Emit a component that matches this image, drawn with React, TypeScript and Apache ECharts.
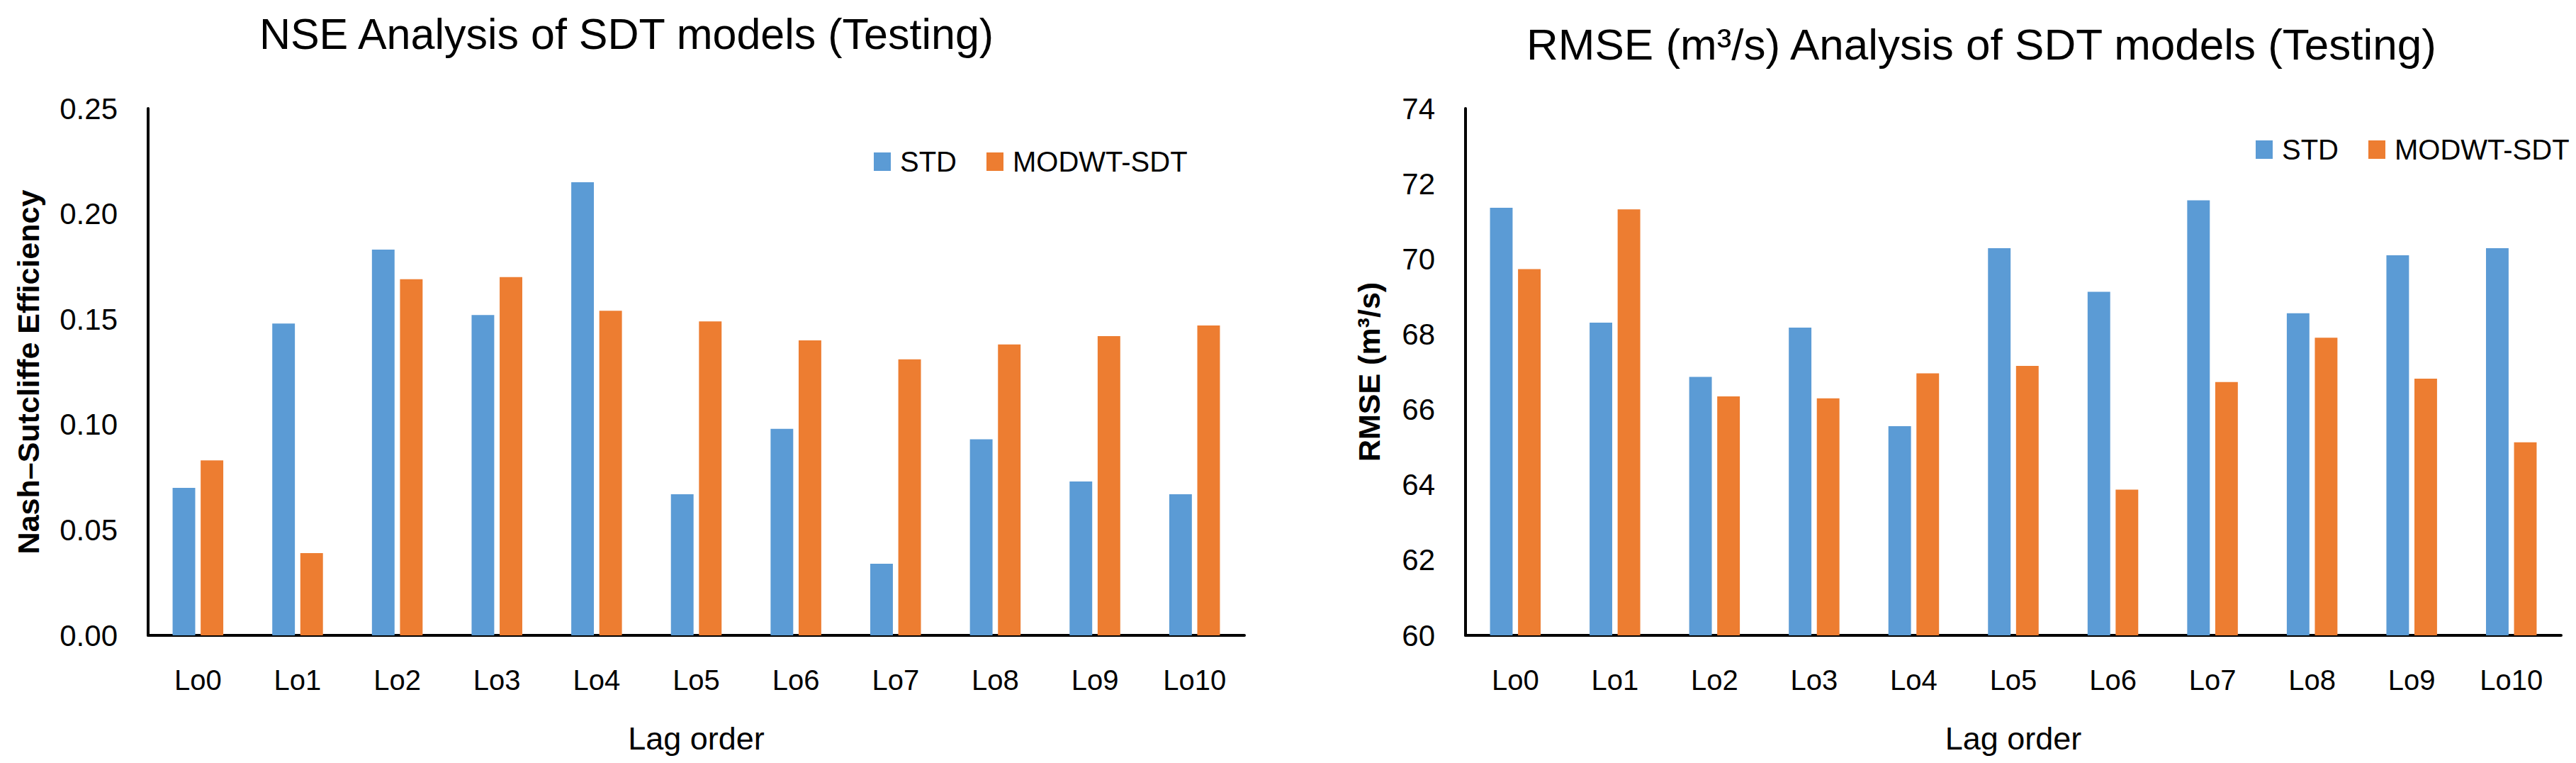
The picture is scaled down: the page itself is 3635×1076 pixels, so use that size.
import React, { useEffect, useRef } from "react";
import * as echarts from "echarts";

const categories = ["Lo0", "Lo1", "Lo2", "Lo3", "Lo4", "Lo5", "Lo6", "Lo7", "Lo8", "Lo9", "Lo10"];
const seriesNames = ["STD", "MODWT-SDT"];
const nseStd = [0.070, 0.148, 0.183, 0.152, 0.215, 0.067, 0.098, 0.034, 0.093, 0.073, 0.067];
const nseModwt = [0.083, 0.039, 0.169, 0.170, 0.154, 0.149, 0.140, 0.131, 0.138, 0.142, 0.147];
const rmseStd = [71.36, 68.31, 66.87, 68.18, 65.56, 70.29, 69.13, 71.56, 68.56, 70.10, 70.29];
const rmseModwt = [69.73, 71.32, 66.35, 66.30, 66.96, 67.16, 63.87, 66.73, 67.91, 66.82, 65.13];

const nseTitle = "NSE Analysis of SDT models (Testing)";
const rmseTitle = "RMSE (m\u00B3/s) Analysis of SDT models (Testing)";
const nseAxisName = "Nash\u2013Sutcliffe Efficiency";
const rmseAxisName = "RMSE (m\u00B3/s)";
const xAxisName = "Lag order";

const FONT = "'Liberation Sans', Arial, sans-serif";
const BLUE = "#5B9BD5";
const ORANGE = "#ED7D31";
const TEXT = "#000000";

export default function App() {
  const ref = useRef<HTMLDivElement>(null);

  useEffect(() => {
    if (!ref.current) return;
    const chart = echarts.init(ref.current, null, { renderer: "svg" });

    const xAxisBase = (gridIndex: number) => ({
      type: "category",
      gridIndex,
      data: categories,
      axisTick: { show: false },
      axisLine: { show: true, lineStyle: { color: "#000", width: 4 } },
      axisLabel: {
        fontSize: 40,
        fontFamily: FONT,
        color: TEXT,
        margin: 63,
        verticalAlign: "middle",
      },
      name: xAxisName,
      nameLocation: "middle",
      nameGap: 145,
      nameMoveOverlap: false,
      nameTextStyle: { fontSize: 45, fontFamily: FONT, color: TEXT, verticalAlign: "middle" },
      splitLine: { show: false },
    });

    const yAxisBase = (gridIndex: number, min: number, max: number, interval: number, name: string, gap: number, fmt: (v: number) => string) => ({
      type: "value",
      gridIndex,
      min,
      max,
      interval,
      axisLine: { show: true, lineStyle: { color: "#000", width: 4 } },
      axisTick: { show: false },
      splitLine: { show: false },
      axisLabel: {
        fontSize: 42,
        fontFamily: FONT,
        color: TEXT,
        margin: 43,
        formatter: fmt,
      },
      name,
      nameLocation: "middle",
      nameGap: gap,
      nameMoveOverlap: false,
      nameTextStyle: {
        fontSize: 43,
        fontWeight: "bold",
        fontFamily: FONT,
        color: TEXT,
        verticalAlign: "middle",
      },
    });

    const legendBase = (left: number, top: number) => ({
      left,
      top,
      orient: "horizontal",
      padding: 0,
      itemWidth: 24,
      itemHeight: 26,
      itemGap: 42,
      icon: "rect",
      data: seriesNames,
      textStyle: { fontSize: 40, fontFamily: FONT, color: TEXT, lineHeight: 40, padding: [0, 0, 0, 8] },
    });

    const barBase = {
      type: "bar",
      barWidth: "22.7%",
      barGap: "24%",
    };

    chart.setOption({
      animation: false,
      backgroundColor: "#ffffff",
      grid: [
        { left: 209, right: 3635 - 1756, top: 153, bottom: 1076 - 896, outerBoundsMode: "none" },
        { left: 2068, right: 3635 - 3614, top: 153, bottom: 1076 - 896, outerBoundsMode: "none" },
      ],
      legend: [legendBase(1233, 208), legendBase(3183, 191)],
      xAxis: [xAxisBase(0), xAxisBase(1)],
      yAxis: [
        yAxisBase(0, 0, 0.25, 0.05, nseAxisName, 169, (v: number) => v.toFixed(2)),
        yAxisBase(1, 60, 74, 2, rmseAxisName, 136, (v: number) => String(v)),
      ],
      graphic: [
        {
          type: "text",
          x: 884,
          y: 48,
          style: { text: nseTitle, fontSize: 61, fontFamily: FONT, fill: TEXT, align: "center", verticalAlign: "middle" },
        },
        {
          type: "text",
          x: 2796,
          y: 62,
          style: { text: rmseTitle, fontSize: 62, fontFamily: FONT, fill: TEXT, align: "center", verticalAlign: "middle" },
        },
      ],
      series: [
        { ...barBase, name: seriesNames[0], xAxisIndex: 0, yAxisIndex: 0, data: nseStd, itemStyle: { color: BLUE } },
        { ...barBase, name: seriesNames[1], xAxisIndex: 0, yAxisIndex: 0, data: nseModwt, itemStyle: { color: ORANGE } },
        { ...barBase, name: seriesNames[0], xAxisIndex: 1, yAxisIndex: 1, data: rmseStd, itemStyle: { color: BLUE } },
        { ...barBase, name: seriesNames[1], xAxisIndex: 1, yAxisIndex: 1, data: rmseModwt, itemStyle: { color: ORANGE } },
      ],
    });

    return () => {
      chart.dispose();
    };
  }, []);

  return (
    <div
      ref={ref}
      style={{ position: "fixed", left: 0, top: 0, width: 3635, height: 1076, background: "#fff" }}
    />
  );
}
